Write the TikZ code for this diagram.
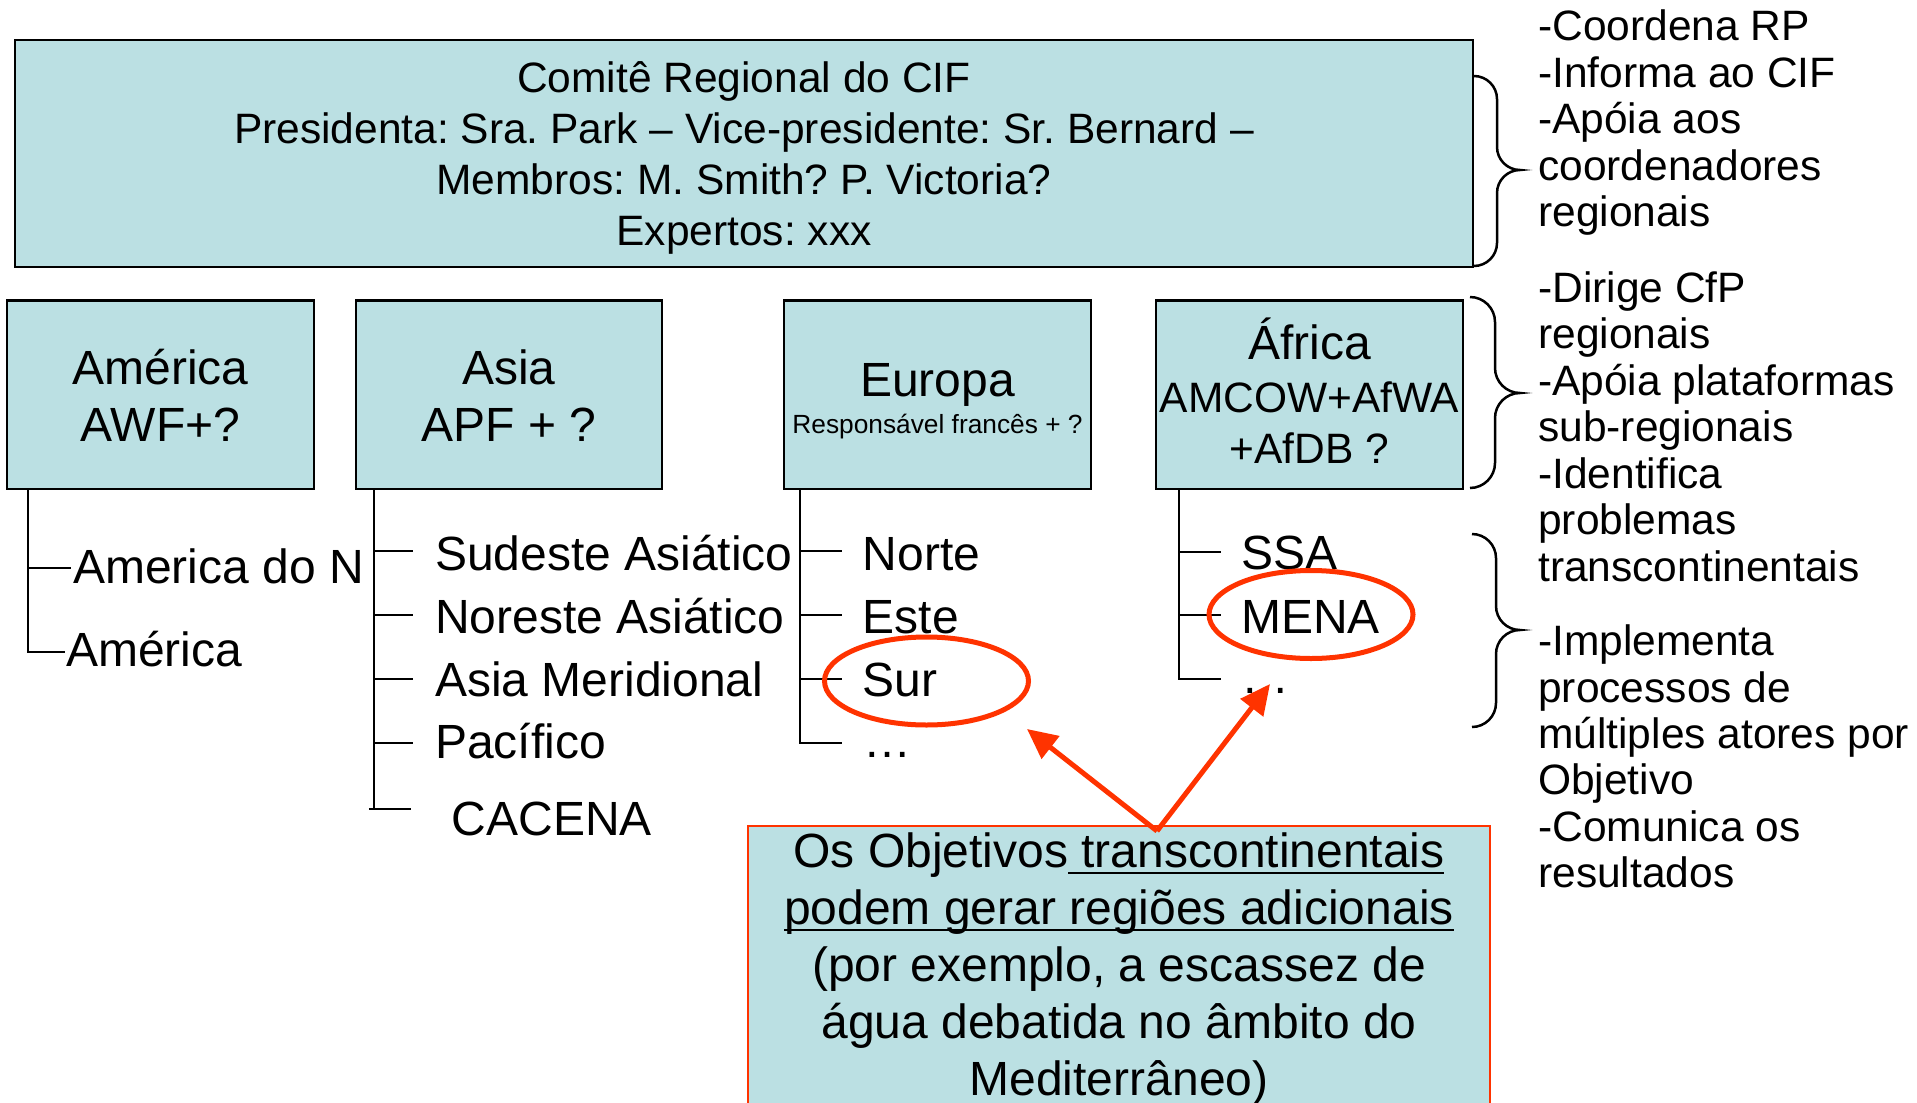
\documentclass[tikz,border=0pt]{standalone}
\usepackage{fontspec}
\setmainfont{Liberation Sans}
\usetikzlibrary{arrows.meta}
\definecolor{boxfill}{HTML}{BBE0E3}
\definecolor{hired}{HTML}{FF3300}
\frenchspacing
\newcommand\szL{\fontsize{48}{57}\selectfont}
\newcommand\szM{\fontsize{42.5}{46.5}\selectfont}
\newcommand\szS{\fontsize{26.3}{30}\selectfont}
\newcommand\myul[1]{\setbox0=\hbox{#1}\rlap{\rule[-7pt]{\wd0}{2.5pt}}\box0}
\newcommand\bracepath[5]{%
 \draw[brc] (#1,#2) .. controls ({#1+0.55*#5},#2) and ({#1+#5},{#2+0.45*#5}) .. ({#1+#5},{#2+#5})
 -- ({#1+#5},{#3-#5}) .. controls ({#1+#5},{#3-0.45*#5}) and ({#1+1.45*#5},#3) .. ({#1+2*#5},#3)
 .. controls ({#1+1.45*#5},#3) and ({#1+#5},{#3+0.45*#5}) .. ({#1+#5},{#3+#5})
 -- ({#1+#5},{#4-#5}) .. controls ({#1+#5},{#4-0.45*#5}) and ({#1+0.55*#5},#4) .. (#1,#4);}
\begin{document}
\frenchspacing
\begin{tikzpicture}[x=1pt,y=-1pt,
  box/.style={draw=black, line width=2.5pt, fill=boxfill, rectangle, inner sep=0pt},
  txt/.style={anchor=base, inner sep=0pt},
  ltxt/.style={anchor=base west, inner sep=0pt},
  tree/.style={draw=black, line width=2pt},
  brc/.style={draw=black, line width=2.5pt},
  ring/.style={draw=hired, line width=5pt},
  hiarrow/.style={draw=hired, line width=5pt, -{Triangle[length=30pt,width=28pt]}}]
\useasboundingbox (0,0) rectangle (1917,1103);
\clip (0,0) rectangle (1917,1103);
\fill[white] (0,0) rectangle (1917,1103);

% top box
\node[box, minimum width=1458pt, minimum height=227pt] (top) at (744,153.5) {};
\node[txt, font=\szM] (t1) at (744,92) {Comitê Regional do CIF};
\node[txt, font=\szM] (t2) at (744,143) {Presidenta: Sra. Park – Vice-presidente: Sr. Bernard –};
\node[txt, font=\szM] (t3) at (744,194) {Membros: M. Smith? P. Victoria?};
\node[txt, font=\szM] (t4) at (744,245) {Expertos: xxx};

% region boxes
\node[box, minimum width=307pt, minimum height=188.5pt] (amer) at (160.5,394.75) {};
\node[box, minimum width=306pt, minimum height=188.5pt] (asia) at (509,394.75) {};
\node[box, minimum width=307pt, minimum height=188.5pt] (euro) at (937.5,394.75) {};
\node[box, minimum width=307pt, minimum height=188.5pt] (afr) at (1309.5,394.75) {};

\node[txt, font=\szL] (amer1) at (160.5,384) {América};
\node[txt, font=\szL] (amer2) at (160.5,441.5) {AWF+?};
\node[txt, font=\szL] (asia1) at (509,384) {Asia};
\node[txt, font=\szL] (asia2) at (509,441.5) {APF + ?};
\node[txt, font=\szL] (euro1) at (937.5,396) {Europa};
\node[txt, font=\szS] (euro2) at (937.5,433) {Responsável francês + ?};
\node[txt, font=\szL] (afr1) at (1309.5,359) {África};
\node[txt, font=\szM] (afr2) at (1309.5,412) {AMCOW+AfWA};
\node[txt, font=\szM] (afr3) at (1309.5,463) {+AfDB ?};

% lists
\node[ltxt, font=\szL] (amA) at (73,583) {America do N};
\node[ltxt, font=\szL] (amB) at (66,666) {América};
\node[ltxt, font=\szL] (asA) at (435,570) {Sudeste Asiático};
\node[ltxt, font=\szL] (asB) at (435,633) {Noreste Asiático};
\node[ltxt, font=\szL] (asC) at (435,696) {Asia Meridional};
\node[ltxt, font=\szL] (asD) at (435,758) {Pacífico};
\node[ltxt, font=\szL] (asE) at (451.5,835) {CACENA};
\node[ltxt, font=\szL] (euA) at (862.6,570) {Norte};
\node[ltxt, font=\szL] (euB) at (862.6,633) {Este};
\node[ltxt, font=\szL] (euC) at (862.6,696) {Sur};
\node[ltxt, font=\szL] (euD) at (863,757) {…};
\node[ltxt, font=\szL] (afA) at (1241,569) {SSA};
\node[ltxt, font=\szL] (afB) at (1241,633) {MENA};
\node[ltxt, font=\szL] (afC) at (1241,693) {…};

% tree branch ends
\coordinate (amb1) at (71,568);
\coordinate (amb2) at (65,652);
\coordinate (asb1) at (413,551);
\coordinate (asb2) at (413,615);
\coordinate (asb3) at (413,679);
\coordinate (asb4) at (413,743);
\coordinate (asb5) at (411,809);
\coordinate (eub1) at (842,551);
\coordinate (eub2) at (842,615);
\coordinate (eub3) at (842,679);
\coordinate (eub4) at (842,743);
\coordinate (afb1) at (1221,552);
\coordinate (afb2) at (1221,615);
\coordinate (afb3) at (1221,679);

\foreach \c in {amb1,amb2} \draw[tree] ([xshift=22pt]amer.south west) |- (\c);
\foreach \c in {asb1,asb2,asb3,asb4,asb5} \draw[tree] ([xshift=19pt]asia.south west) |- (\c);
\draw[tree] ([xshift=14pt]asia.south west |- asb5) -- (asb5);
\foreach \c in {eub1,eub2,eub3,eub4} \draw[tree] ([xshift=17.5pt]euro.south west) |- (\c);
\foreach \c in {afb1,afb2,afb3} \draw[tree] ([xshift=24.5pt]afr.south west) |- (\c);

% right-hand notes
\foreach \s [count=\i from 0] in {-Coordena RP,-Informa ao CIF,-Apóia aos,coordenadores,regionais}
  \node[ltxt, font=\szM] (ra\i) at (1538,{40.7+46.45*\i}) {\s};
\foreach \s [count=\i from 0] in {-Dirige CfP,regionais,-Apóia plataformas,sub-regionais,-Identifica,problemas,transcontinentais}
  \node[ltxt, font=\szM] (rb\i) at (1538,{302.3+46.45*\i}) {\s};
\foreach \s [count=\i from 0] in {-Implementa,processos de,múltiples atores por,Objetivo,-Comunica os,resultados}
  \node[ltxt, font=\szM] (rc\i) at (1538,{655.6+46.45*\i}) {\s};

% braces
\bracepath{1474}{76}{170}{266}{23}
\bracepath{1470}{297}{393}{488}{25}
\bracepath{1472}{534}{630}{727}{24}

% bottom box
\node[box, draw=hired, minimum width=742pt, minimum height=304pt] (bot) at (1119,978) {};
\node[txt, font=\szL] (b1) at (1119,867) {Os Objetivos\myul{ transcontinentais}};
\node[txt, font=\szL] (b2) at (1119,924) {\myul{podem gerar regiões adicionais}};
\node[txt, font=\szL] (b3) at (1119,981) {(por exemplo, a escassez de};
\node[txt, font=\szL] (b4) at (1119,1038) {água debatida no âmbito do};
\node[txt, font=\szL] (b5) at (1119,1095) {Mediterrâneo)};

% highlight rings
\draw[ring] (926.5,681) ellipse [x radius=102pt, y radius=44pt];
\draw[ring] (1311,614.5) ellipse [x radius=102pt, y radius=44pt];

% arrows
\coordinate (apex) at (1157,831);
\coordinate (surtip) at (1027,729);
\coordinate (menatip) at (1270,684);
\draw[hiarrow] (apex) -- (surtip);
\draw[hiarrow] (apex) -- (menatip);
\end{tikzpicture}
\end{document}
